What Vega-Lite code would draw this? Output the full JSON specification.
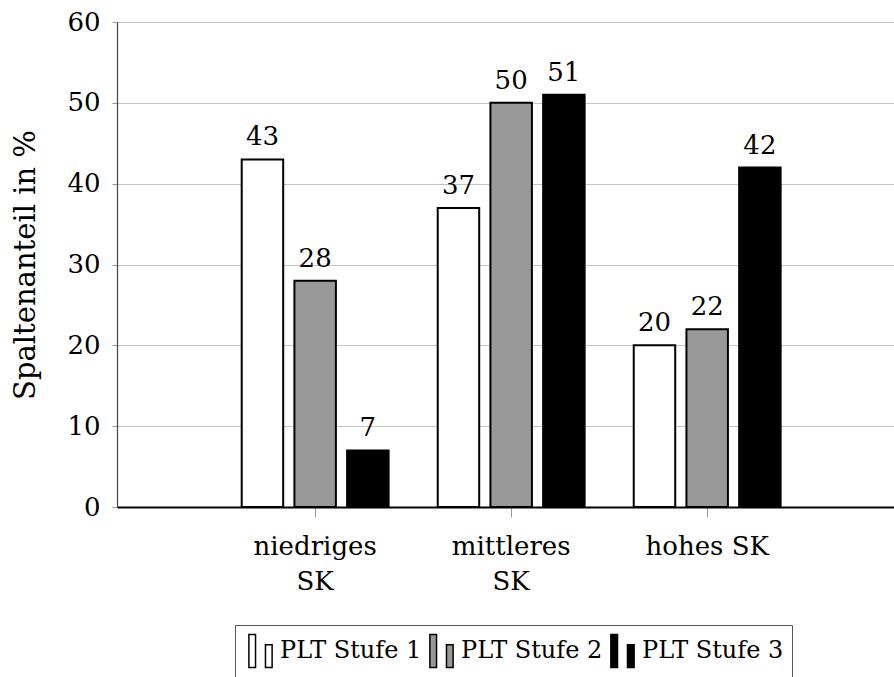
{
  "$schema": "https://vega.github.io/schema/vega-lite/v6.json",
  "autosize": {"type": "none"},
  "padding": {"left": 117, "top": 22, "right": 0, "bottom": 170},
  "width": 777,
  "height": 485,
  "background": "white",
  "config": {
    "view": {"stroke": null},
    "font": "DejaVu Serif",
    "axis": {"labelFont": "DejaVu Serif", "titleFont": "DejaVu Serif", "labelColor": "black", "titleColor": "black", "titleFontWeight": "normal"},
    "legend": {"labelFont": "DejaVu Serif"}
  },
  "data": {
    "values": [
      {"sk": "niedriges SK", "stufe": "PLT Stufe 1", "v": 43},
      {"sk": "niedriges SK", "stufe": "PLT Stufe 2", "v": 28},
      {"sk": "niedriges SK", "stufe": "PLT Stufe 3", "v": 7},
      {"sk": "mittleres SK", "stufe": "PLT Stufe 1", "v": 37},
      {"sk": "mittleres SK", "stufe": "PLT Stufe 2", "v": 50},
      {"sk": "mittleres SK", "stufe": "PLT Stufe 3", "v": 51},
      {"sk": "hohes SK", "stufe": "PLT Stufe 1", "v": 20},
      {"sk": "hohes SK", "stufe": "PLT Stufe 2", "v": 22},
      {"sk": "hohes SK", "stufe": "PLT Stufe 3", "v": 42}
    ]
  },
  "encoding": {
    "x": {
      "field": "sk", "type": "nominal", "sort": ["niedriges SK", "mittleres SK", "hohes SK"],
      "scale": {"paddingInner": 0, "paddingOuter": 0.482, "align": 0.53},
      "axis": {
        "title": null, "labelAngle": 0, "labelFontSize": 26, "labelLineHeight": 35,
        "labelExpr": "datum.value == 'hohes SK' ? datum.value : split(datum.value, ' ')",
        "labelBaseline": "top", "labelPadding": 16,
        "tickSize": 10, "tickColor": "#999999", "tickWidth": 1,
        "domainColor": "black", "domainWidth": 2, "grid": false
      }
    },
    "xOffset": {
      "field": "stufe", "type": "nominal",
      "scale": {"paddingInner": 0.213, "paddingOuter": 0.466}
    },
    "y": {
      "field": "v", "type": "quantitative",
      "scale": {"domain": [0, 60], "nice": false},
      "axis": {
        "title": "Spaltenanteil in %", "titleFontSize": 29, "titlePadding": 26,
        "values": [0, 10, 20, 30, 40, 50, 60],
        "labelFontSize": 26, "labelPadding": 12, "tickSize": 5, "tickColor": "#999999",
        "domainColor": "#444444", "domainWidth": 1.2,
        "grid": true, "gridColor": "#c4c4c4", "gridWidth": 1
      }
    }
  },
  "layer": [
    {
      "mark": {"type": "bar", "stroke": "black", "strokeWidth": 2},
      "encoding": {
        "fill": {
          "field": "stufe", "type": "nominal",
          "scale": {"domain": ["PLT Stufe 1", "PLT Stufe 2", "PLT Stufe 3"], "range": ["white", "#999999", "black"]},
          "legend": {
            "title": null, "orient": "none", "direction": "horizontal",
            "legendX": 118, "legendY": 603,
            "strokeColor": "#555555", "padding": 8,
            "symbolType": "M-0.7,-1H-0.3V1H-0.7Z M0.3,-0.38H0.7V1H0.3Z",
            "symbolSize": 1100, "symbolStrokeColor": "black", "symbolStrokeWidth": 1.5,
            "labelFontSize": 24, "labelColor": "black", "labelOffset": 2, "columnPadding": 2
          }
        }
      }
    },
    {
      "mark": {"type": "text", "dy": -14, "baseline": "alphabetic", "fontSize": 26, "color": "black", "font": "DejaVu Serif"},
      "encoding": {"text": {"field": "v", "type": "quantitative"}}
    }
  ]
}
